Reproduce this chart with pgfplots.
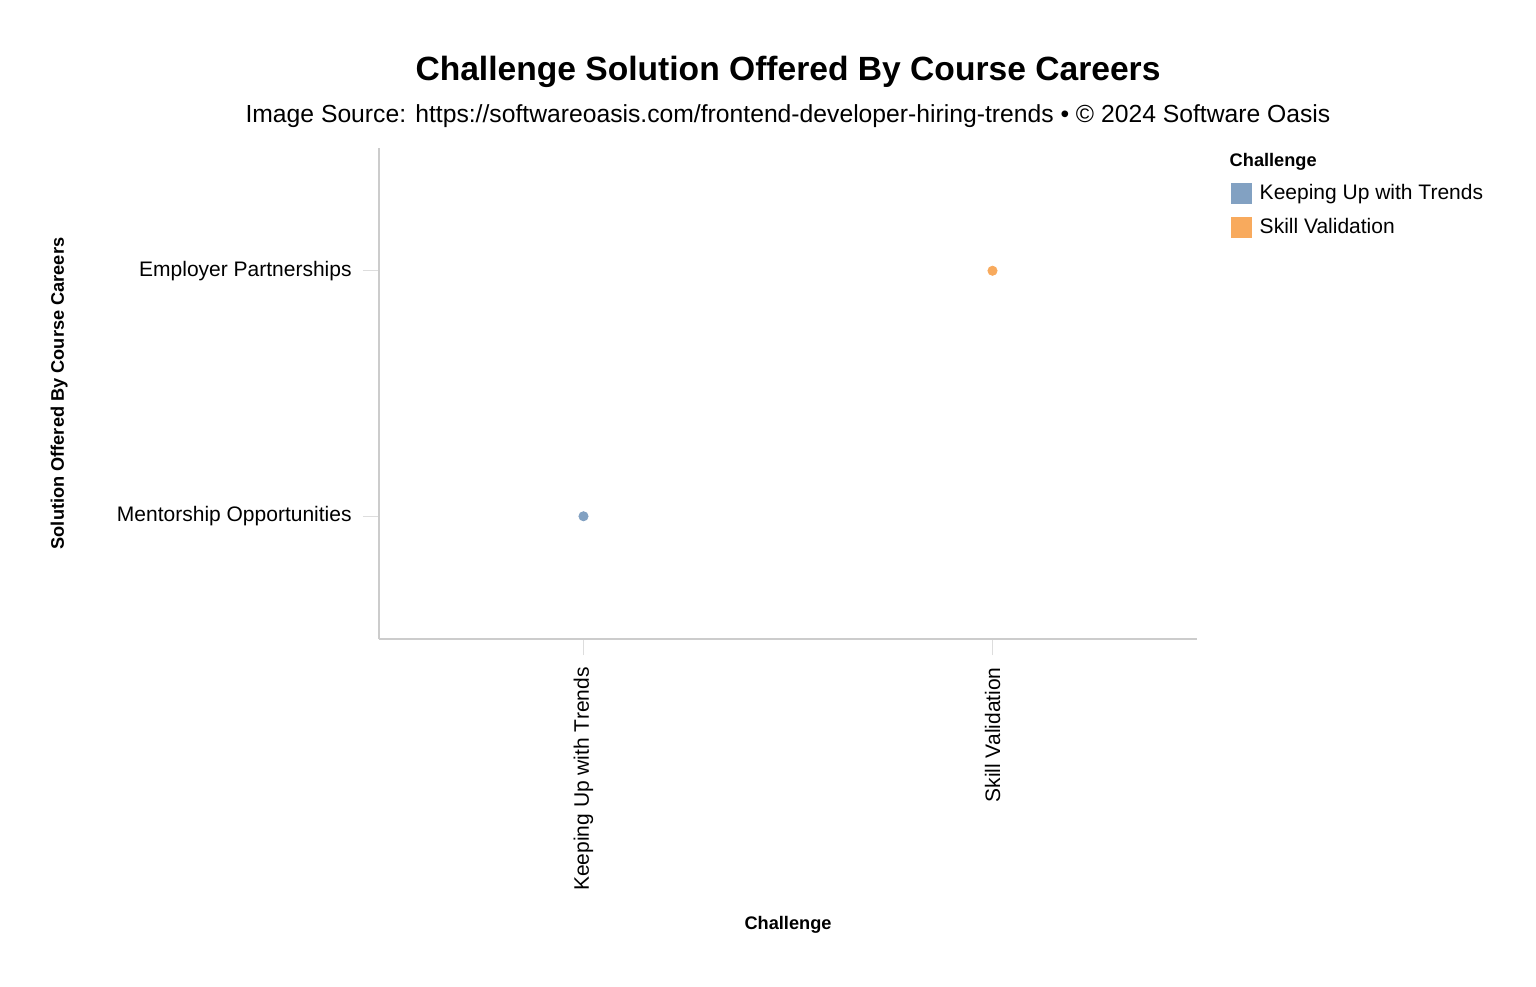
\documentclass[border=0pt]{standalone}
\usepackage{pgfplots}
\pgfplotsset{compat=1.18}
\usepackage{fontspec}
\setmainfont{Liberation Sans}
\definecolor{cblue}{HTML}{82A1C2}
\definecolor{corange}{HTML}{F8AA5D}
\definecolor{axgray}{HTML}{CCCCCC}
\definecolor{tickgray}{HTML}{DDDDDD}
\begin{document}
\begin{tikzpicture}
\useasboundingbox (0,0) rectangle (768pt,-493pt);
\begin{axis}[
  at={(189.5pt,-319.5pt)}, anchor=south west,
  scale only axis, width=409pt, height=245.5pt,
  xmin=-0.5, xmax=1.5, ymin=-0.5, ymax=1.5,
  xtick={0,1}, xticklabels={Keeping Up with Trends, Skill Validation},
  ytick={0,1}, yticklabels={Mentorship Opportunities, Employer Partnerships},
  axis x line*=bottom, axis y line*=left,
  axis line style={axgray, line width=0.6pt},
  tick align=outside, major tick length=8pt,
  tick style={tickgray, line width=0.6pt},
  x tick label style={rotate=90, anchor=east, font=\fontsize{10.5}{12}\selectfont, inner sep=0pt},
  y tick label style={font=\fontsize{10.5}{12}\selectfont, inner sep=0pt},
  xticklabel shift=6pt, yticklabel shift=5.5pt,
  xlabel={Challenge}, ylabel={Solution Offered By Course Careers},
  label style={font=\bfseries\fontsize{9.1}{11}\selectfont},
  xlabel style={at={(axis description cs:0.5,-0.582)}, anchor=center},
  ylabel style={at={(axis description cs:-0.391,0.5)}, anchor=center},
  legend style={at={(axis description cs:1.041,0.998)}, anchor=north west, draw=none, fill=none,
    inner sep=0pt, font=\fontsize{10.5}{12}\selectfont, row sep=3.5pt,
    nodes={inner xsep=4pt}, cells={anchor=west}},
  legend cell align=left,
  clip=false,
]
\addlegendimage{empty legend}
\addlegendentry{\hspace{-15pt}\bfseries\fontsize{9.1}{11}\selectfont Challenge}
\addlegendimage{legend image code/.code={\fill[cblue] (0pt,-5pt) rectangle (10pt,5pt);}}
\addlegendentry{Keeping Up with Trends}
\addlegendimage{legend image code/.code={\fill[corange] (0pt,-5pt) rectangle (10pt,5pt);}}
\addlegendentry{Skill Validation}
\addplot[only marks, mark=*, mark size=2.3pt, color=cblue, mark options={draw=cblue, fill=cblue}, forget plot]
  coordinates {(0,0)};
\addplot[only marks, mark=*, mark size=2.3pt, color=corange, mark options={draw=corange, fill=corange}, forget plot]
  coordinates {(1,1)};
\node[anchor=center, font=\bfseries\fontsize{16.8}{20}\selectfont] at (axis description cs:0.5,1.155)
  {Challenge Solution Offered By Course Careers};
\node[anchor=center, font=\fontsize{12.35}{14}\selectfont] at (axis description cs:0.5,1.065)
  {Image Source: https://softwareoasis.com/frontend-developer-hiring-trends • © 2024 Software Oasis};
\end{axis}
\end{tikzpicture}
\end{document}
